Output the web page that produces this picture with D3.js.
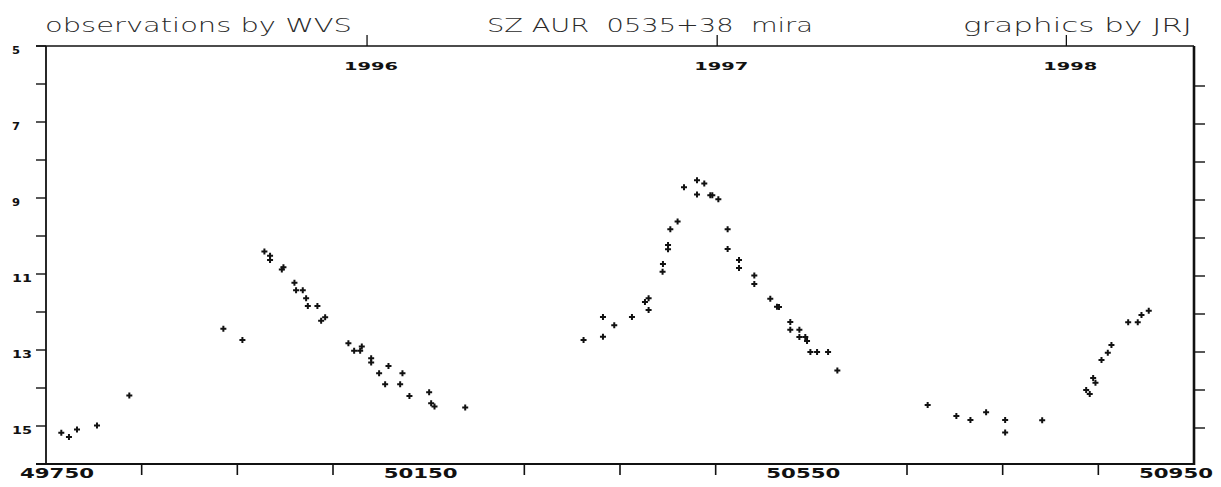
<!DOCTYPE html>
<html>
<head>
<meta charset="utf-8">
<script src="https://cdn.jsdelivr.net/npm/d3@7"></script>
<style>
  html, body { margin: 0; padding: 0; background: #fff; }
  svg { display: block; }
  text { white-space: pre; }
</style>
</head>
<body>
<svg id="chart" width="1221" height="487"></svg>
<script>
// ---- data (JD - 2400000, visual magnitude) ----
const jd = [
  49766, 49774, 49782.4, 49803.3, 49837.1, 49935.4, 49955.3, 49978.3, 49984.2, 49984.2,
  49996.5, 49998.2, 50009.7, 50011.4, 50018.4, 50021.9, 50023.7, 50033.7, 50037.6, 50041.8,
  50066.1, 50072.1, 50078.4, 50080.1, 50089.9, 50089.9, 50098.2, 50108, 50104.5, 50122.6,
  50120.2, 50129.9, 50150.5, 50152.6, 50156.1, 50188.2,
  50311.9, 50332.2, 50332.2, 50344, 50362.5, 50376.1, 50379.9, 50379.9, 50394.9, 50394.5,
  50400.2, 50400.2, 50402.6, 50410.2, 50416.9, 50430.5, 50430.5, 50438.1, 50444.4, 50446.5,
  50452.8, 50462.5, 50462.5, 50474.4, 50474.4, 50490.4, 50490.4, 50507.1, 50514.1, 50516.2,
  50528, 50528, 50537.5, 50537.5, 50543.7, 50545.5, 50549, 50556, 50567.5, 50577.2,
  50671.6, 50701.6, 50716.3, 50732.7, 50752.6, 50752.6, 50791.3, 50837.3, 50841, 50844.6,
  50847, 50853.3, 50859.9, 50863.7, 50881.2, 50891.2, 50895.1, 50902.7
];
const mag = [
  15.18, 15.29, 15.09, 14.99, 14.20, 12.44, 12.74, 10.41, 10.52, 10.63,
  10.88, 10.82, 11.23, 11.43, 11.43, 11.64, 11.84, 11.84, 12.23, 12.14,
  12.82, 13.02, 13.02, 12.91, 13.22, 13.33, 13.61, 13.42, 13.90, 13.61,
  13.90, 14.21, 14.11, 14.40, 14.49, 14.51,
  12.74, 12.65, 12.13, 12.35, 12.13, 11.74, 11.64, 11.95, 10.74, 10.94,
  10.24, 10.35, 9.82, 9.62, 8.72, 8.53, 8.91, 8.62, 8.93, 8.93,
  9.03, 9.82, 10.34, 10.63, 10.84, 11.04, 11.26, 11.65, 11.86, 11.87,
  12.26, 12.47, 12.47, 12.66, 12.66, 12.76, 13.05, 13.05, 13.05, 13.54,
  14.45, 14.74, 14.84, 14.64, 14.84, 15.17, 14.85, 14.05, 14.16, 13.74,
  13.86, 13.26, 13.07, 12.87, 12.27, 12.27, 12.08, 11.97
];

const xLabelTicks = [49750, 50150, 50550, 50950];
const xMinorTicks = [49850, 49950, 50050, 50250, 50350, 50450, 50650, 50750, 50850];
const yLabelTicks = [5, 7, 9, 11, 13, 15];
const yTicksLeft = [5, 6, 7, 8, 9, 10, 11, 12, 13, 14, 15, 16];
const yTicksRight = [6, 7, 8, 9, 10, 11, 12, 13, 14, 15];
const yearLabels = ["1996", "1997", "1998"];
const yearJD = [50083.5, 50449.5, 50814.5];   // Jan 1 of each year
const titleLeft = "observations by WVS";
const titleMid = "SZ AUR  0535+38  mira";
const titleRight = "graphics by JRJ";

// ---- layout ----
const svg = d3.select("#chart");
const x = d3.scaleLinear().domain([49750, 50950]).range([46, 1194]);
const y = d3.scaleLinear().domain([5, 16]).range([46, 464]);
const ink = "#111";
const x0 = x.range()[0], x1 = x.range()[1];
const y0 = y.range()[0], y1 = y.range()[1];

const g = svg.append("g");

// frame
g.append("line").attr("x1", 36).attr("x2", x1).attr("y1", y0).attr("y2", y0)
  .attr("stroke", ink).attr("stroke-width", 1.6);
g.append("line").attr("x1", 36).attr("x2", x1).attr("y1", y1).attr("y2", y1)
  .attr("stroke", ink).attr("stroke-width", 1.8);
g.append("line").attr("x1", x0).attr("x2", x0).attr("y1", y0).attr("y2", y1)
  .attr("stroke", ink).attr("stroke-width", 1.8);
g.append("line").attr("x1", x1).attr("x2", x1).attr("y1", y0).attr("y2", y1 + 1)
  .attr("stroke", ink).attr("stroke-width", 2.6);

// left ticks
g.selectAll(".lt").data(yTicksLeft).enter().append("line")
  .attr("x1", 36).attr("x2", x0).attr("y1", d => y(d)).attr("y2", d => y(d))
  .attr("stroke", ink).attr("stroke-width", 1.4);
// right ticks
g.selectAll(".rt").data(yTicksRight).enter().append("line")
  .attr("x1", x1).attr("x2", x1 + 11).attr("y1", d => y(d) + 2).attr("y2", d => y(d) + 2)
  .attr("stroke", ink).attr("stroke-width", 1.4);

// left labels
g.selectAll(".yl").data(yLabelTicks).enter().append("text")
  .attr("x", 12).attr("y", d => y(d) + 8)
  .attr("font-family", "DejaVu Sans").attr("font-weight", "bold").attr("font-size", 11)
  .attr("fill", ink)
  .attr("textLength", d => String(d).length > 1 ? 20 : 8)
  .attr("lengthAdjust", "spacingAndGlyphs")
  .text(d => d);

// bottom minor ticks
g.selectAll(".bt").data(xMinorTicks).enter().append("line")
  .attr("x1", d => x(d)).attr("x2", d => x(d)).attr("y1", y1).attr("y2", y1 + 11)
  .attr("stroke", ink).attr("stroke-width", 1.6);

// bottom labels
g.selectAll(".xl").data(xLabelTicks).enter().append("text")
  .attr("x", d => Math.max(57, Math.min(1176, x(d) - 8)))
  .attr("y", 478)
  .attr("text-anchor", "middle")
  .attr("font-family", "DejaVu Sans").attr("font-weight", "bold").attr("font-size", 14)
  .attr("fill", ink)
  .attr("textLength", 74).attr("lengthAdjust", "spacingAndGlyphs")
  .text(d => d);

// year ticks on top
g.selectAll(".yt").data(yearJD).enter().append("line")
  .attr("x1", d => x(d) + 2).attr("x2", d => x(d) + 2).attr("y1", y0 - 11).attr("y2", y0)
  .attr("stroke", ink).attr("stroke-width", 1.3);
g.selectAll(".yr").data(yearLabels).enter().append("text")
  .attr("x", (d, i) => x(yearJD[i]) + 6)
  .attr("y", 70)
  .attr("text-anchor", "middle")
  .attr("font-family", "DejaVu Sans").attr("font-weight", "bold").attr("font-size", 10)
  .attr("fill", ink)
  .attr("textLength", 54).attr("lengthAdjust", "spacingAndGlyphs")
  .text(d => d);

// titles
const titleStyle = sel => sel
  .attr("font-family", "DejaVu Sans").attr("font-weight", 200).attr("font-size", 20)
  .attr("fill", "#2a2a2a").attr("lengthAdjust", "spacingAndGlyphs")
  .attr("xml:space", "preserve");
g.append("text").attr("x", 45).attr("y", 32).attr("textLength", 307).call(titleStyle).text(titleLeft);
g.append("text").attr("x", 487).attr("y", 32).attr("textLength", 326).call(titleStyle).text(titleMid);
g.append("text").attr("x", 963).attr("y", 32).attr("textLength", 229).call(titleStyle).text(titleRight);

// data points (+ markers)
const pts = jd.map((d, i) => ({ jd: d, mag: mag[i] }));
g.selectAll(".pt").data(pts).enter().append("path")
  .attr("transform", d => `translate(${x(d.jd)},${y(d.mag)})`)
  .attr("d", "M-3,0H3M0,-3V3")
  .attr("stroke", ink).attr("stroke-width", 2).attr("fill", "none");
</script>
</body>
</html>
